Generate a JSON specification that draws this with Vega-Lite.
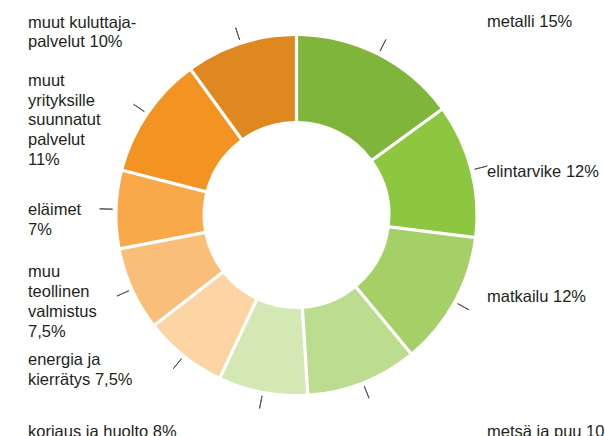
{
  "$schema": "https://vega.github.io/schema/vega-lite/v6.json",
  "width": 593,
  "height": 430,
  "autosize": "none",
  "padding": {"left": 0, "top": 0, "right": 12, "bottom": 6},
  "background": "white",
  "view": {"stroke": null},
  "data": {
    "values": [
      {"n": 1, "category": "metalli", "value": 15, "label": "metalli 15%"},
      {"n": 2, "category": "elintarvike", "value": 12, "label": "elintarvike 12%"},
      {"n": 3, "category": "matkailu", "value": 12, "label": "matkailu 12%"},
      {"n": 4, "category": "metsä ja puu", "value": 10, "label": "metsä ja puu 10%"},
      {"n": 5, "category": "korjaus ja huolto", "value": 8, "label": "korjaus ja huolto 8%"},
      {"n": 6, "category": "energia ja kierrätys", "value": 7.5, "label": "energia ja\nkierrätys 7,5%"},
      {"n": 7, "category": "muu teollinen valmistus", "value": 7.5, "label": "muu\nteollinen\nvalmistus\n7,5%"},
      {"n": 8, "category": "eläimet", "value": 7, "label": "eläimet\n7%"},
      {"n": 9, "category": "muut yrityksille suunnatut palvelut", "value": 11, "label": "muut\nyrityksille\nsuunnatut\npalvelut\n11%"},
      {"n": 10, "category": "muut kuluttajapalvelut", "value": 10, "label": "muut kuluttaja-\npalvelut 10%"}
    ]
  },
  "encoding": {
    "theta": {"field": "value", "type": "quantitative", "stack": true},
    "order": {"field": "n", "type": "quantitative"}
  },
  "layer": [
    {
      "mark": {"type": "arc", "radius": 179, "radius2": 94, "padAngle": 0.016},
      "encoding": {
        "color": {
          "field": "category",
          "type": "nominal",
          "legend": null,
          "scale": {
            "domain": ["metalli", "elintarvike", "matkailu", "metsä ja puu", "korjaus ja huolto", "energia ja kierrätys", "muu teollinen valmistus", "eläimet", "muut yrityksille suunnatut palvelut", "muut kuluttajapalvelut"],
            "range": ["#80b53c", "#8dc641", "#a5cf67", "#bcdd90", "#d3e8b5", "#fdd4a4", "#f9be7a", "#f9a84a", "#f39422", "#df881f"]
          }
        }
      }
    },
    {
      "mark": {"type": "arc", "radius": 197, "radius2": 184, "padAngle": 3, "fill": "transparent", "stroke": "#555555", "strokeWidth": 1}
    },
    {
      "mark": {"type": "text", "radius": 200, "align": "left", "baseline": "top", "dx": 99.7, "dy": -22.6, "font": "Liberation Sans", "fontSize": 16.5, "lineHeight": 20, "lineBreak": "\n", "color": "#231f20"},
      "encoding": {"text": {"condition": {"test": "datum.n === 1", "field": "label"}, "value": ""}}
    },
    {
      "mark": {"type": "text", "radius": 200, "align": "left", "baseline": "top", "dx": -3.2, "dy": -1.4, "font": "Liberation Sans", "fontSize": 16.5, "lineHeight": 20, "lineBreak": "\n", "color": "#231f20"},
      "encoding": {"text": {"condition": {"test": "datum.n === 2", "field": "label"}, "value": ""}}
    },
    {
      "mark": {"type": "text", "radius": 200, "align": "left", "baseline": "top", "dx": 15.2, "dy": -22.5, "font": "Liberation Sans", "fontSize": 16.5, "lineHeight": 20, "lineBreak": "\n", "color": "#231f20"},
      "encoding": {"text": {"condition": {"test": "datum.n === 3", "field": "label"}, "value": ""}}
    },
    {
      "mark": {"type": "text", "radius": 200, "align": "left", "baseline": "top", "dx": 116.9, "dy": 23.2, "font": "Liberation Sans", "fontSize": 16.5, "lineHeight": 20, "lineBreak": "\n", "color": "#231f20"},
      "encoding": {"text": {"condition": {"test": "datum.n === 4", "field": "label"}, "value": ""}}
    },
    {
      "mark": {"type": "text", "radius": 200, "align": "left", "baseline": "top", "dx": -231, "dy": 12.7, "font": "Liberation Sans", "fontSize": 16.5, "lineHeight": 20, "lineBreak": "\n", "color": "#231f20"},
      "encoding": {"text": {"condition": {"test": "datum.n === 5", "field": "label"}, "value": ""}}
    },
    {
      "mark": {"type": "text", "radius": 200, "align": "left", "baseline": "top", "dx": -143.5, "dy": -18.9, "font": "Liberation Sans", "fontSize": 16.5, "lineHeight": 20, "lineBreak": "\n", "color": "#231f20"},
      "encoding": {"text": {"condition": {"test": "datum.n === 6", "field": "label"}, "value": ""}}
    },
    {
      "mark": {"type": "text", "radius": 200, "align": "left", "baseline": "top", "dx": -86.2, "dy": -33.4, "font": "Liberation Sans", "fontSize": 16.5, "lineHeight": 20, "lineBreak": "\n", "color": "#231f20"},
      "encoding": {"text": {"condition": {"test": "datum.n === 7", "field": "label"}, "value": ""}}
    },
    {
      "mark": {"type": "text", "radius": 200, "align": "left", "baseline": "top", "dx": -68.6, "dy": -6.5, "font": "Liberation Sans", "fontSize": 16.5, "lineHeight": 20, "lineBreak": "\n", "color": "#231f20"},
      "encoding": {"text": {"condition": {"test": "datum.n === 8", "field": "label"}, "value": ""}}
    },
    {
      "mark": {"type": "text", "radius": 200, "align": "left", "baseline": "top", "dx": -103.1, "dy": -29.4, "font": "Liberation Sans", "fontSize": 16.5, "lineHeight": 19.6, "lineBreak": "\n", "color": "#231f20"},
      "encoding": {"text": {"condition": {"test": "datum.n === 9", "field": "label"}, "value": ""}}
    },
    {
      "mark": {"type": "text", "radius": 200, "align": "left", "baseline": "top", "dx": -206.7, "dy": -9.5, "font": "Liberation Sans", "fontSize": 16.5, "lineHeight": 19, "lineBreak": "\n", "color": "#231f20"},
      "encoding": {"text": {"condition": {"test": "datum.n === 10", "field": "label"}, "value": ""}}
    }
  ]
}
